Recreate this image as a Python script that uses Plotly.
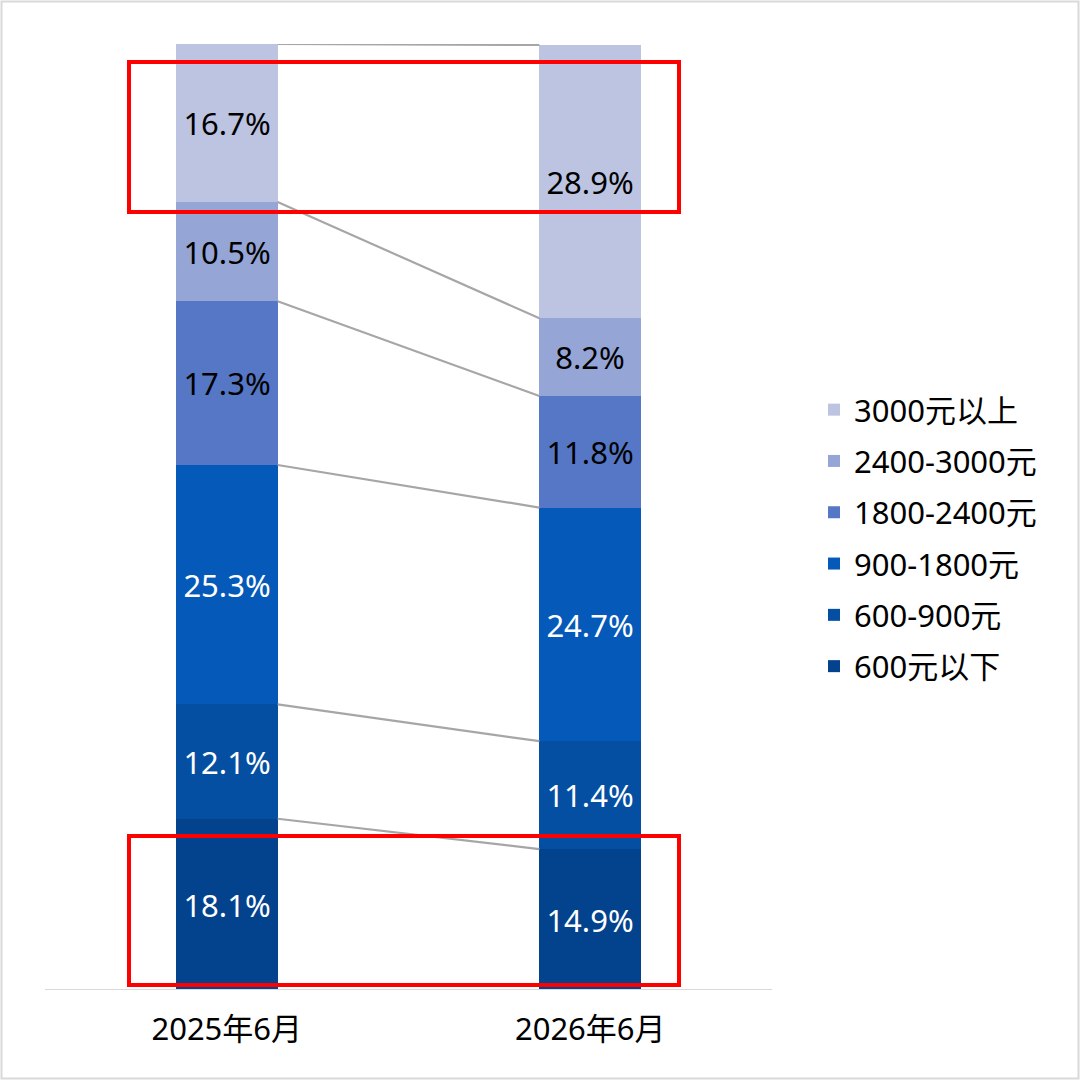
import plotly.graph_objects as go

# data
periods = ["2025年6月", "2026年6月"]
bands = ["600元以下", "600-900元", "900-1800元", "1800-2400元", "2400-3000元", "3000元以上"]
share_2025 = [18.1, 12.1, 25.3, 17.3, 10.5, 16.7]
share_2026 = [14.9, 11.4, 24.7, 11.8, 8.2, 28.9]

colors = ["#03428C", "#054FA2", "#0559B8", "#5577C5", "#95A5D6", "#BCC4E2"]
text_colors = ["white", "white", "white", "black", "black", "black"]
font = "Noto Sans, Noto Sans CJK SC, sans-serif"
bar_w = 0.28

fig = go.Figure()

for i, band in enumerate(bands):
    vals = [share_2025[i], share_2026[i]]
    fig.add_trace(go.Bar(
        x=[0, 1], y=vals, name=band, legendgroup=band,
        legendrank=len(bands) - i,
        width=bar_w,
        marker=dict(color=colors[i], line=dict(width=0)),
        text=["%.1f%%" % v for v in vals],
        textposition="inside", insidetextanchor="middle",
        textfont=dict(color=text_colors[i], size=31, family=font),
        constraintext="none",
        hoverinfo="skip",
    ))

# connector lines between segment tops
cum_a, cum_b = 0, 0
for i in range(len(bands)):
    cum_a += share_2025[i]
    cum_b += share_2026[i]
    fig.add_trace(go.Scatter(
        x=[bar_w / 2, 1 - bar_w / 2], y=[cum_a, cum_b],
        mode="lines", line=dict(color="#A6A6A6", width=2.2),
        showlegend=False, hoverinfo="skip",
    ))

L, R, T, B = 45, 308, 44, 90
pw, ph = 1080 - L - R, 1080 - T - B

def px(x):
    return (x - L) / pw

def py(y):
    return (1080 - B - y) / ph

shapes = []
# red highlight boxes
for y0, y1 in [(62, 212), (836, 985)]:
    shapes.append(dict(type="rect", xref="paper", yref="paper",
                       x0=px(129), x1=px(679), y0=py(y1), y1=py(y0),
                       line=dict(color="#FF0000", width=4), layer="above"))
# outer frame
shapes.append(dict(type="rect", xref="paper", yref="paper",
                   x0=px(1.5), x1=px(1078.5), y0=py(1078.5), y1=py(1.5),
                   line=dict(color="#D9D9D9", width=2), layer="above"))

fig.update_layout(
    width=1080, height=1080,
    margin=dict(l=L, r=R, t=T, b=B),
    barmode="stack",
    bargap=0,
    paper_bgcolor="white", plot_bgcolor="white",
    font=dict(family=font, size=24, color="black"),
    showlegend=True,
    legend=dict(x=px(814), xanchor="left", y=py(538), yanchor="middle",
                traceorder="grouped", tracegroupgap=8,
                font=dict(size=31, family=font), itemwidth=30),
    xaxis=dict(range=[-0.5, 1.5], tickvals=[0, 1], ticktext=periods,
               showgrid=False, zeroline=False, showline=False,
               ticks="", ticklabelstandoff=18,
               tickfont=dict(size=31, family=font)),
    yaxis=dict(range=[0, 100], visible=False, showgrid=False),
    shapes=shapes,
)
fig.add_shape(type="line", xref="paper", yref="y", x0=0, x1=1, y0=0, y1=0,
              line=dict(color="#D9D9D9", width=2))

fig.write_html("out.html", config={"displayModeBar": False},
               post_script="document.body.style.margin='0';")
